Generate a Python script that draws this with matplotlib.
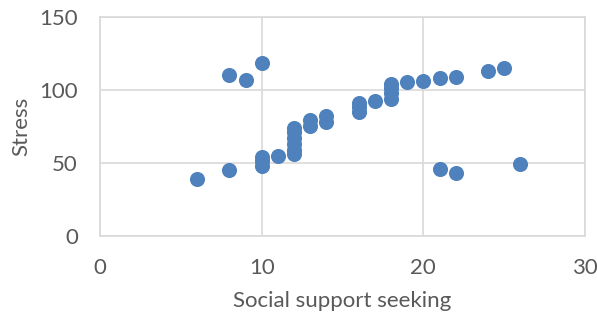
import matplotlib
matplotlib.use('Agg')
import matplotlib.pyplot as plt

# social support seeking score vs. stress score
support = [6, 8, 8, 9, 10, 10, 10, 10, 11,
           12, 12, 12, 12, 12, 12, 13, 13, 14, 14,
           16, 16, 16, 17, 18, 18, 18, 18, 19, 20, 21, 22,
           24, 25, 21, 22, 26]
stress = [39, 45, 110, 107, 118, 54, 51, 48, 55,
          74, 71, 67, 63, 59, 56, 79, 75, 82, 78,
          91, 88, 85, 92, 104, 101, 98, 94, 105, 106, 108, 109,
          113, 115, 46, 43, 49]

x_ticks = [0, 10, 20, 30]
y_ticks = [0, 50, 100, 150]

text_col = '#595959'
grid_col = '#d9d9d9'

plt.rcParams['font.family'] = ['Lato', 'DejaVu Sans']

fig = plt.figure(figsize=(5.97, 3.21), dpi=100)
ax = fig.add_axes([0.1675, 0.265, 0.8125, 0.683])

ax.scatter(support, stress, s=118, color='#4F81BD', zorder=3, linewidths=0)

ax.set_xlim(0, 30)
ax.set_ylim(0, 150)
ax.set_xticks(x_ticks)
ax.set_yticks(y_ticks)
ax.grid(True, color=grid_col, linewidth=1.2)
ax.set_axisbelow(True)
for s in ax.spines.values():
    s.set_color(grid_col)
    s.set_linewidth(1.2)
ax.tick_params(length=0, labelsize=16, labelcolor=text_col)
ax.tick_params(axis='x', pad=16)
ax.tick_params(axis='y', pad=16)

ax.set_xlabel('Social support seeking', fontsize=16, color=text_col, labelpad=9)
ax.set_ylabel('Stress', fontsize=16, color=text_col, labelpad=6)

fig.savefig('out.png', dpi=100)
